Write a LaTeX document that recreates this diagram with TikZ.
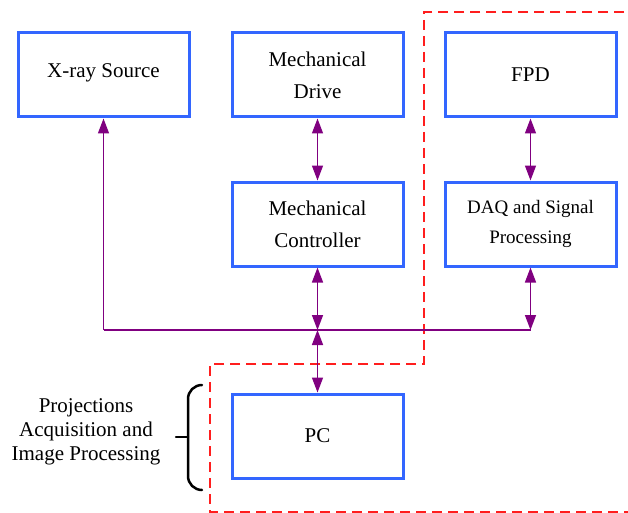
\documentclass[tikz,border=0pt]{standalone}
\usepackage{fontspec}
\setmainfont{Liberation Serif}
\usetikzlibrary{arrows.meta}
\definecolor{boxblue}{RGB}{51,102,255}
\definecolor{linkpurple}{RGB}{128,0,128}
\definecolor{zonered}{RGB}{255,30,30}
\tikzset{
  blk/.style={draw=boxblue, line width=3pt, minimum width=171pt, minimum height=84pt,
    inner sep=0pt, align=center, font=\fontsize{21}{32}\selectfont},
  link/.style={draw=linkpurple, line width=1.5pt},
  dbl/.style={link, {Triangle[length=15pt,width=11pt]}-{Triangle[length=15pt,width=11pt]}},
  sgl/.style={link, -{Triangle[length=15pt,width=11pt]}},
  zone/.style={draw=zonered, line width=1.8pt, dash pattern=on 10pt off 6pt},
  bracestyle/.style={draw=black, line width=2.5pt, line cap=round}
}
\begin{document}
\begin{tikzpicture}[x=1pt,y=-1pt]
\path[use as bounding box] (0,0) rectangle (628,513);
% dashed zone
\draw[zone] (640,12) -- (424,12) -- (424,364) -- (210,364) -- (210,512) -- (640,512);
% boxes
\node[blk] (xray) at (103.5,75) {\raisebox{8pt}{X-ray Source}};
\node[blk] (md) at (317.5,75) {Mechanical\\Drive};
\node[blk] (fpd) at (530.5,75) {FPD};
\node[blk] (mc) at (317.5,224) {Mechanical\\Controller};
\node[blk, font=\fontsize{19}{30}\selectfont] (daq) at (530.5,224) {DAQ and Signal\\Processing};
\node[blk] (pc) at (317.5,436) {PC};
% bus
\coordinate (bus) at (317.5,330);
\coordinate (busL) at (xray.south |- bus);
\coordinate (busR) at (daq.south |- bus);
\draw[link] (busL) -- (busR);
\draw[sgl] (busL) -- (xray.south);
\draw[dbl] (md.south) -- (mc.north);
\draw[dbl] (fpd.south) -- (daq.north);
\draw[dbl] (mc.south) -- (bus);
\draw[dbl] (daq.south) -- (busR);
\draw[dbl] (bus) -- (pc.north);
% brace and label
\draw[bracestyle] (202,385) to[out=180,in=90] (188,399) -- (188,476) to[out=-90,in=180] (202,490);
\coordinate (bracetip) at (176,437);
\draw[bracestyle] (bracetip) -- (188,437);
\node[align=center, font=\fontsize{21}{24}\selectfont, inner sep=0pt] (lbl) at (86,432) {Projections\\Acquisition and\\Image Processing};
\end{tikzpicture}
\end{document}
